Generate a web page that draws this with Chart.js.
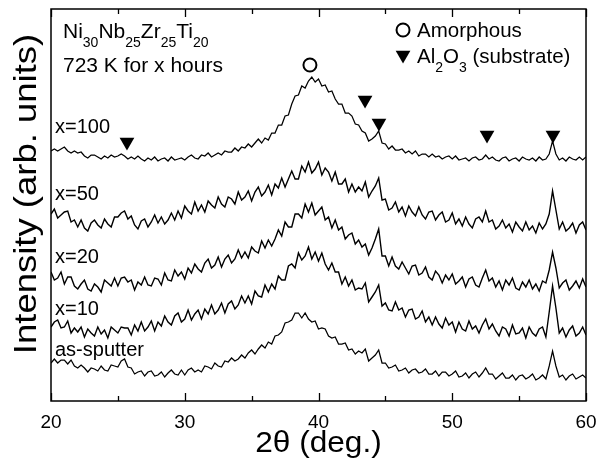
<!DOCTYPE html>
<html>
<head>
<meta charset="utf-8">
<script src="https://cdn.jsdelivr.net/npm/chart.js@4/dist/chart.umd.min.js"></script>
<style>
  body { margin: 0; background: #fff; }
  canvas { display: block; }
</style>
</head>
<body>
<canvas id="xrd" width="599" height="462"></canvas>
<script>
// XRD scans, 2theta from 20 to 60 deg in 0.25 deg steps, stacked with offsets (arb. units)
const angleStart = 20;
const angleStep = 0.25;

const asSputter = [38,42,38,41,41,37,41,35,33,36, 33,29,33,32,30,35,31,30,36,35,
  34,40,42,34,33,27,29,30,25,29, 30,25,26,29,24,28,31,27,26,31,
  26,31,33,29,31,29,35,34,32,38, 35,34,40,39,43,40,42,46,43,48,
  51,47,52,56,53,59,57,65,66,69, 78,79,81,88,88,83,88,82,79,80,
  72,73,72,65,63,64,57,57,58,51, 52,47,50,48,52,40,43,46,51,38,
  38,33,34,36,30,31,33,28,31,32, 28,29,32,27,27,30,25,29,29,25,
  27,30,24,25,28,23,27,29,24,28, 33,27,27,22,25,28,23,23,26,21,
  25,26,22,24,27,21,23,26,22,35, 50,35,24,26,21,25,27,22,24,26, 23];

const x10 = [74,79,81,73,74,80,68,73,69,74, 64,72,68,65,74,67,71,63,74,71,
  68,74,73,73,66,76,70,79,70,74, 80,70,79,75,85,79,76,85,88,79,
  82,91,81,87,91,82,92,87,96,87, 91,98,88,97,100,92,96,105,98,105,
  97,110,105,104,116,109,117,112,125,121, 121,135,137,133,148,141,145,154,142,149,
  140,148,137,131,138,129,129,117,124,115, 121,111,113,112,118,99,104,109,116,95,
  98,91,90,99,91,93,84,91,92,82, 84,90,79,84,76,84,77,73,83,76,
  79,69,79,72,70,80,72,75,68,76, 82,72,77,70,65,74,72,65,76,67,
  68,73,63,74,68,65,72,74,64,89, 115,93,68,73,64,71,75,65,68,74, 66];

const x20 = [129,121,123,129,117,124,124,115,112,117, 121,112,110,117,114,109,121,118,115,123,
  115,123,124,119,121,111,119,116,124,116, 115,123,122,116,128,121,120,131,125,129,
  122,133,128,137,132,129,138,142,133,136, 144,134,142,146,138,142,151,143,149,143,
  154,150,148,160,153,161,155,162,171,165, 179,174,174,187,187,183,197,189,198,186,
  190,194,181,184,173,181,171,174,162,166, 168,157,161,154,157,146,153,162,172,145,
  145,135,144,135,132,139,133,127,135,136, 126,128,134,124,121,130,126,118,126,121,
  127,117,120,124,114,122,124,116,114,123, 131,120,123,114,120,111,121,116,123,113,
  111,119,114,121,112,117,110,120,118,131, 149,133,113,118,121,111,115,120,113,122, 114];

const x50 = [187,192,183,186,189,190,179,181,174,181, 173,170,178,181,176,173,182,177,174,184,
  184,188,190,182,185,176,172,180,182,174, 179,186,178,184,177,181,188,181,190,183,
  195,190,187,199,190,196,189,200,196,193, 204,197,194,204,202,197,209,201,204,210,
  200,209,214,205,209,216,206,217,213,223, 214,222,230,222,222,235,229,239,228,232,
  239,226,233,229,220,229,217,217,222,209, 217,209,214,210,219,204,210,215,223,201,
  202,191,193,199,189,194,185,195,189,185, 194,186,182,189,190,181,186,189,179,181,
  188,177,182,175,184,177,173,182,184,179, 190,179,181,172,175,181,173,177,169,179,
  174,170,179,171,175,168,178,172,177,187, 210,191,172,179,170,173,178,168,176,179, 171];

const x100 = [250,252,250,252,254,250,248,250,248,249, 245,243,246,246,244,242,245,243,246,244,
  245,247,245,242,244,242,245,242,240,243, 241,244,240,242,243,240,244,241,242,243,
  241,244,246,243,242,246,245,248,244,246, 248,246,250,249,249,253,250,254,253,257,
  254,258,262,258,263,261,268,268,276,276, 285,286,297,305,306,315,313,320,324,319,
  322,315,316,309,310,302,297,297,288,288, 285,277,276,270,268,260,262,265,270,258,
  257,252,255,251,251,252,248,250,247,250, 245,247,247,244,247,244,245,242,244,245,
  242,245,241,242,243,240,243,244,241,242, 246,242,244,241,240,243,244,240,242,243,
  240,244,242,241,243,240,244,241,242,247, 260,247,241,243,240,244,242,241,244,241, 244];

const scanLabels = ['as-sputter', 'x=10', 'x=20', 'x=50', 'x=100'];
const scans = [asSputter, x10, x20, x50, x100];
const scanWidths = [1.25, 1.4, 1.4, 1.4, 1.25];

// phase markers above the patterns
const amorphousAngle = [39.36];
const amorphousLevel = [336];
const substrateAngles = [25.68, 43.48, 44.52, 52.6, 57.53];
const substrateLevels = [259, 301, 278, 266, 266];

const xTicks = [20, 30, 40, 50, 60];

const FONT = '"Liberation Sans", Arial, Helvetica, sans-serif';

function toPoints(values) {
  return values.map((v, i) => ({ x: angleStart + i * angleStep, y: v }));
}

const scanSets = scans.map((values, k) => ({
  label: scanLabels[k],
  data: toPoints(values),
  borderColor: '#000',
  borderWidth: scanWidths[k],
  pointRadius: 0,
  tension: 0,
  fill: false
}));

const markerSets = [
  {
    label: 'Amorphous',
    data: amorphousAngle.map((a, i) => ({ x: a, y: amorphousLevel[i] })),
    showLine: false,
    pointStyle: 'circle',
    pointRadius: 6.5,
    pointBorderWidth: 2,
    pointBorderColor: '#000',
    pointBackgroundColor: 'rgba(0,0,0,0)'
  },
  {
    label: 'Al2O3 (substrate)',
    data: substrateAngles.map((a, i) => ({ x: a, y: substrateLevels[i] })),
    showLine: false,
    pointStyle: 'triangle',
    pointRotation: 180,
    pointRadius: 8.5,
    pointBorderWidth: 0,
    pointBackgroundColor: '#000'
  },
  // legend keys, top right
  {
    label: 'key-circle',
    data: [{ x: 46.32, y: 371 }],
    showLine: false,
    pointStyle: 'circle',
    pointRadius: 6.5,
    pointBorderWidth: 2,
    pointBorderColor: '#000',
    pointBackgroundColor: 'rgba(0,0,0,0)'
  },
  {
    label: 'key-triangle',
    data: [{ x: 46.32, y: 346 }],
    showLine: false,
    pointStyle: 'triangle',
    pointRotation: 180,
    pointRadius: 8.5,
    pointBorderWidth: 0,
    pointBackgroundColor: '#000'
  }
];

// text with subscripts: parts are [text, isSub]
function richText(ctx, parts, x, y, size) {
  parts.forEach(([txt, sub]) => {
    ctx.font = (sub ? Math.round(size * 0.68) : size) + 'px ' + FONT;
    ctx.fillText(txt, x, sub ? y + size * 0.42 : y);
    x += ctx.measureText(txt).width;
  });
}

const decor = {
  id: 'decor',
  afterDatasetsDraw(chart) {
    const ctx = chart.ctx;
    const a = chart.chartArea;
    const xs = chart.scales.x;
    ctx.save();
    ctx.strokeStyle = '#000';
    ctx.fillStyle = '#000';

    // frame
    ctx.lineWidth = 1.5;
    ctx.strokeRect(a.left, a.top, a.right - a.left, a.bottom - a.top);

    // inward ticks on bottom and top
    ctx.lineWidth = 1.3;
    ctx.beginPath();
    for (let t = 20; t <= 60; t += 5) {
      const px = Math.round(xs.getPixelForValue(t)) + 0.5;
      const len = t % 10 === 0 ? 8 : 5;
      ctx.moveTo(px, a.bottom); ctx.lineTo(px, a.bottom - len);
      ctx.moveTo(px, a.top); ctx.lineTo(px, a.top + len);
    }
    ctx.stroke();

    // annotations
    ctx.textAlign = 'left';
    ctx.textBaseline = 'alphabetic';
    richText(ctx, [['Ni'], ['30', 1], ['Nb'], ['25', 1], ['Zr'], ['25', 1], ['Ti'], ['20', 1]], 63, 38, 21);
    richText(ctx, [['723 K for x hours']], 63, 72, 21);
    richText(ctx, [['Amorphous']], 417, 37, 20.5);
    richText(ctx, [['Al'], ['2', 1], ['O'], ['3', 1], [' (substrate)']], 417, 63, 20.5);

    // scan labels
    const labelY = [356, 315, 263, 200, 133];
    scanLabels.forEach((s, k) => richText(ctx, [[s]], 55, labelY[k], 20));

    // axis titles
    ctx.textAlign = 'center';
    ctx.save();
    ctx.translate((a.left + a.right) / 2, 452);
    ctx.scale(1.09, 1);
    ctx.font = '29px ' + FONT;
    ctx.fillText('2\u03B8 (deg.)', 0, 0);
    ctx.restore();
    ctx.save();
    ctx.translate(36, 194);
    ctx.rotate(-Math.PI / 2);
    ctx.scale(1.14, 1);
    ctx.font = '32px ' + FONT;
    ctx.fillText('Intensity (arb. units)', 0, 0);
    ctx.restore();

    ctx.restore();
  }
};

const CHART = document.getElementById('xrd').getContext('2d');

let xrdChart = new Chart(CHART, {
  type: 'line',
  data: { datasets: scanSets.concat(markerSets) },
  options: {
    responsive: false,
    animation: false,
    layout: { padding: { left: 51, right: 13, top: 9, bottom: 0 } },
    plugins: { legend: { display: false }, tooltip: { enabled: false } },
    scales: {
      x: {
        type: 'linear',
        min: 20,
        max: 60,
        afterFit: (s) => { s.height = 61; s.paddingLeft = 0; s.paddingRight = 0; },
        afterBuildTicks: (s) => { s.ticks = xTicks.map(v => ({ value: v })); },
        grid: { display: false, drawTicks: false },
        border: { display: false },
        ticks: { color: '#000', font: { family: FONT, size: 19 }, padding: 10, maxRotation: 0 }
      },
      y: { display: false, min: 0, max: 392 }
    }
  },
  plugins: [decor]
});
</script>
</body>
</html>
